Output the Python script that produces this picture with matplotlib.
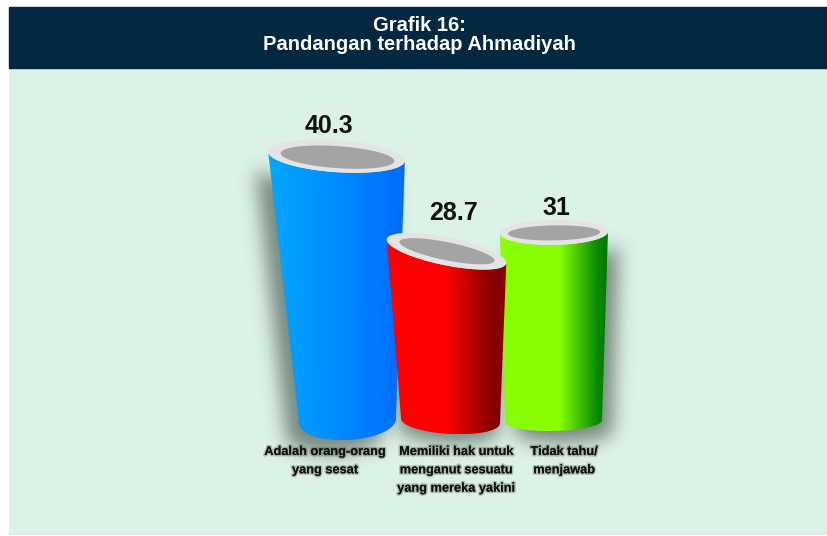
"""Grafik 16: Pandangan terhadap Ahmadiyah -- pseudo-3D tube bars."""
import numpy as np
import matplotlib.pyplot as plt
import matplotlib.patheffects as pe
from matplotlib.colors import LinearSegmentedColormap
from matplotlib.patches import Polygon, Rectangle
from matplotlib.path import Path
from matplotlib.transforms import offset_copy

title = 'Grafik 16:\nPandangan terhadap Ahmadiyah'
categories = ['Adalah orang-orang\nyang sesat',
              'Memiliki hak untuk\nmenganut sesuatu\nyang mereka yakini',
              'Tidak tahu/\nmenjawab']
values = [40.3, 28.7, 31]
value_labels = ['40.3', '28.7', '31']
axis_floor = 8  # the original chart's value axis starts here

# colours: left -> right shading of each tube
gradients = [
    [(0, '#00a8ff'), (0.5, '#008cff'), (1, '#006aff')],
    [(0, '#ff0000'), (0.5, '#ff0000'), (0.85, '#8c0000'), (1, '#800000')],
    [(0, '#88ff00'), (0.55, '#88ff00'), (0.9, '#0a8c00'), (1, '#007800')],
]
HEADER = '#022842'
PANEL = '#ddf2e6'
RIM = '#e4e4e4'
HOLE = '#a4a4a4'

# pixel geometry (saved at dpi 100, so display units are output pixels)
W, H = 827, 536
PX_X = 106.0   # pixels per category step
PX_Y = 8.2     # pixels per value unit

# per-tube perspective styling, in pixels:
# top (dx, a, b, angle), hole (dx, dy, a, b), bottom (dx, a, b, angle)
tops = [(-5.5, 68.5, 16, -4), (-1.5, 61, 14, -11.5), (0, 54, 12.5, 1)]
holes = [(1, 1, 57, 11), (0.5, 0, 48.5, 9), (0, 0.5, 46, 7.5)]
bottoms = [(5.5, 48.5, 19, 3), (2.5, 49.5, 13, -3), (-0.5, 48.5, 10, 1)]
value_dy = [18, 26, 12]
value_dx = [-13, 5, 2]
label_dx = [-17, 8, 10]
shadow_off = [(-13, -14), (-2, -10), (11, -12)]   # pixels (x right, y up)


def ellipse_pts(a, b, ang, t):
    th = np.deg2rad(ang)
    ex = a * np.cos(t) * np.cos(th) - b * np.sin(t) * np.sin(th)
    ey = a * np.cos(t) * np.sin(th) + b * np.sin(t) * np.cos(th)
    return ex, ey


def to_data(x0, y0, ex, ey):
    return np.column_stack([x0 + np.asarray(ex) / PX_X, y0 + np.asarray(ey) / PX_Y])


def tube(i, v):
    tdx, ta, tb, tang = tops[i]
    bdx, ba, bb, bang = bottoms[i]
    xt = i + tdx / PX_X
    xb = i + bdx / PX_X
    # body outline: bottom lower arc, then lower half of the top ellipse
    t_bot = np.linspace(np.pi, 2 * np.pi, 60)
    t_top = np.linspace(2 * np.pi, np.pi, 60)
    bot = to_data(xb, axis_floor, *ellipse_pts(ba, bb, bang, t_bot))
    top = to_data(xt, v, *ellipse_pts(ta, tb, tang, t_top))
    return np.vstack([bot, top]), (xt, v, ta, tb, tang)


def blur(img, sigma):
    r = int(3 * sigma)
    k = np.exp(-0.5 * (np.arange(-r, r + 1) / sigma) ** 2)
    k /= k.sum()
    img = np.apply_along_axis(lambda m: np.convolve(m, k, mode='same'), 0, img)
    return np.apply_along_axis(lambda m: np.convolve(m, k, mode='same'), 1, img)


fig = plt.figure(figsize=(W / 100, H / 100), dpi=100)
fig.patch.set_facecolor('white')

# header band + title
fig.patches.append(Rectangle((9 / W, 1 - 68 / H), 1 - 9 / W, 61 / H,
                             transform=fig.transFigure, color=HEADER, zorder=0))
fig.text(0.5 * (1 + 9 / W) + 0.002, 1 - 35 / H, title, ha='center', va='center',
         color='white', fontsize=14.5, fontweight='bold', linespacing=1.0,
         family=['Liberation Sans', 'DejaVu Sans'])

# chart panel
ax = fig.add_axes([9 / W, 1 / H, 1 - 9 / W, (536 - 68 - 1) / H])
ax.set_facecolor(PANEL)
for s in ax.spines.values():
    s.set_visible(False)
ax.set_xticks([])
ax.set_yticks([])

x_left = -(342 - 9) / PX_X
x_right = (827 - 342) / PX_X
y_bottom = axis_floor - (535 - 421) / PX_Y
y_top = axis_floor + (421 - 68) / PX_Y

shapes = [tube(i, v) for i, v in enumerate(values)]

# soft drop shadow: rasterise the offset bodies, blur, overlay
nx, ny = int((x_right - x_left) * PX_X), int((y_top - y_bottom) * PX_Y)
gx, gy = np.meshgrid(np.linspace(x_left, x_right, nx), np.linspace(y_top, y_bottom, ny))
pts = np.column_stack([gx.ravel(), gy.ravel()])
mask = np.zeros(gx.size)
for i, (body_xy, _) in enumerate(shapes):
    sx, sy = shadow_off[i]
    moved = body_xy + np.array([sx / PX_X, sy / PX_Y])
    mask = np.maximum(mask, Path(moved).contains_points(pts).astype(float))
mask = blur(mask.reshape(ny, nx), 9)
shadow_img = np.zeros((ny, nx, 4))
shadow_img[..., :3] = [0.2, 0.27, 0.24]
shadow_img[..., 3] = 0.6 * mask
ax.imshow(shadow_img, extent=[x_left, x_right, y_bottom, y_top], aspect='auto',
          interpolation='bilinear', zorder=1)

# tubes (red last: it sits in front of its neighbours)
order = [0, 2, 1]
for k, i in enumerate(order):
    body_xy, (xt, v, ta, tb, tang) = shapes[i]
    z = 3 + 3 * k
    body = Polygon(body_xy, closed=True, facecolor='none', edgecolor='none', zorder=z)
    ax.add_patch(body)
    cmap = LinearSegmentedColormap.from_list(f'tube{i}', gradients[i])
    grad = np.linspace(0, 1, 256).reshape(1, -1)
    x0, x1 = body_xy[:, 0].min(), body_xy[:, 0].max()
    y0, y1 = body_xy[:, 1].min(), body_xy[:, 1].max()
    im = ax.imshow(grad, extent=[x0, x1, y0, y1], aspect='auto', cmap=cmap,
                   interpolation='bilinear', zorder=z)
    im.set_clip_path(body)

    t = np.linspace(0, 2 * np.pi, 120)
    rim = to_data(xt, v, *ellipse_pts(ta, tb, tang, t))
    ax.add_patch(Polygon(rim, closed=True, facecolor=RIM, edgecolor='none', zorder=z + 1))
    hdx, hdy, ha_, hb = holes[i]
    hole = to_data(xt + hdx / PX_X, v - hdy / PX_Y, *ellipse_pts(ha_, hb, tang, t))
    ax.add_patch(Polygon(hole, closed=True, facecolor=HOLE, edgecolor='none', zorder=z + 2))

ax.set_xlim(x_left, x_right)
ax.set_ylim(y_bottom, y_top)

# value labels
for i, (v, lab) in enumerate(zip(values, value_labels)):
    tr = offset_copy(ax.transData, fig=fig, x=value_dx[i], y=value_dy[i], units='dots')
    ax.text(i, v, lab, transform=tr, ha='center', va='bottom', fontsize=18,
            fontweight='bold', color='#111111', zorder=20,
            family=['Liberation Sans', 'DejaVu Sans'])

# category labels
shadow = [pe.withStroke(linewidth=2.2, foreground=(0.3, 0.3, 0.3, 0.32))]
for i, cat in enumerate(categories):
    tr = offset_copy(ax.transData, fig=fig, x=label_dx[i], y=-25, units='dots')
    ax.text(i, axis_floor, cat, transform=tr, ha='center', va='top', fontsize=9.2,
            fontweight='bold', color='#111111', linespacing=1.7, zorder=20,
            family=['Liberation Sans', 'DejaVu Sans'],
            path_effects=shadow)

fig.savefig('out.png', dpi=100, facecolor='white')
